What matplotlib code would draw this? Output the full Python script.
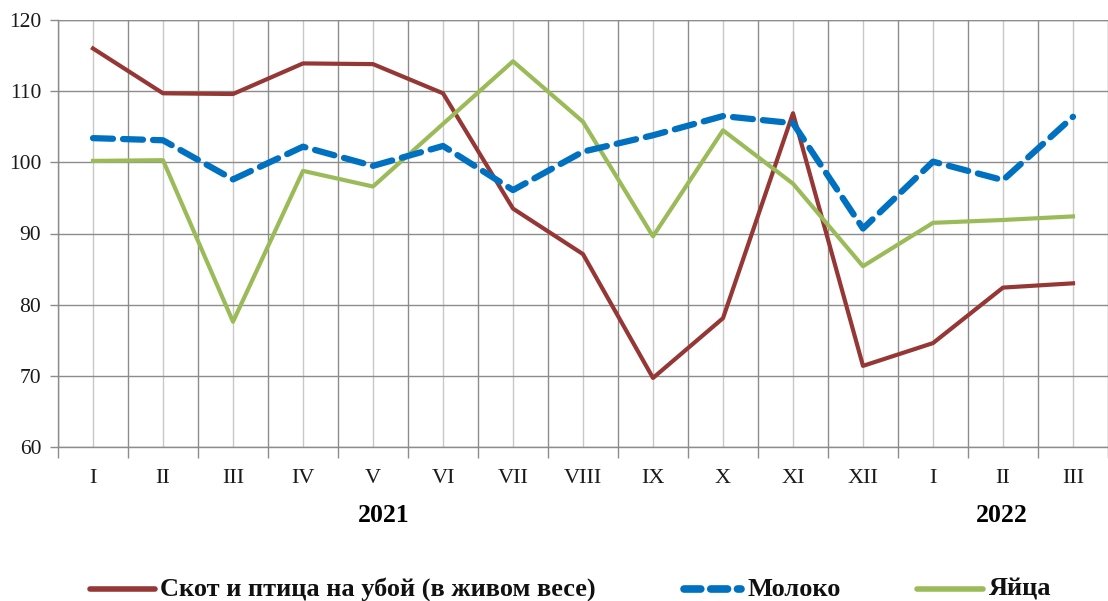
import matplotlib
matplotlib.use("Agg")
import matplotlib.pyplot as plt
from matplotlib.ticker import NullFormatter
from matplotlib.lines import Line2D

months = ["I", "II", "III", "IV", "V", "VI", "VII", "VIII", "IX", "X", "XI", "XII", "I", "II", "III"]
years = ["2021", "2022"]
livestock = [116.0, 109.7, 109.6, 113.9, 113.8, 109.7, 93.5, 87.1, 69.7, 78.1, 106.9, 71.4, 74.6, 82.4, 83.0]
milk = [103.4, 103.1, 97.6, 102.2, 99.5, 102.3, 96.1, 101.5, 103.8, 106.5, 105.5, 90.7, 100.1, 97.5, 106.4]
eggs = [100.2, 100.3, 77.6, 98.8, 96.6, 105.4, 114.2, 105.7, 89.6, 104.5, 97.0, 85.4, 91.5, 91.9, 92.4]
names = ["Скот и птица на убой (в живом весе)", "Молоко", "Яйца"]
colors = ["#953735", "#0070C0", "#9BBB59"]

W, H = 1108, 601
fig = plt.figure(figsize=(W / 100, H / 100), dpi=100)
ax = fig.add_axes([58 / W, (H - 447) / H, (W - 58) / W, (447 - 20) / H])

x = list(range(len(months)))
serif = "Liberation Serif"

ax.plot(x, livestock, color=colors[0], lw=3.0, zorder=3)
ax.plot(x, milk, color=colors[1], lw=4.5, dashes=(3.2, 1.6), dash_capstyle="round", zorder=4)
ax.plot(x, eggs, color=colors[2], lw=3.0, zorder=3)

ax.set_ylim(60, 120)
ax.set_xlim(-0.5, (W - 93.3) / 70.4)
ax.set_yticks(range(60, 121, 10))
ax.yaxis.grid(True, color="#8c8c8c", lw=1.0)
ax.set_xticks([i - 0.5 for i in range(len(months) + 1)])
ax.xaxis.set_major_formatter(NullFormatter())
ax.set_xticks(x, months, minor=True)
ax.xaxis.grid(True, which="major", color="#8c8c8c", lw=1.0)
ax.xaxis.grid(True, which="minor", color="#c8c8c8", lw=1.0)
ax.set_axisbelow(True)
ax.tick_params(axis="x", which="major", length=8, color="#8c8c8c", width=1.0)
ax.tick_params(axis="x", which="minor", length=0, pad=15.5, labelsize=16)
ax.tick_params(axis="y", length=6, color="#8c8c8c", width=1.0, labelsize=15.5, pad=6)
for lab in ax.get_xticklabels(minor=True) + ax.get_yticklabels():
    lab.set_fontfamily(serif)
    lab.set_color("#1a1a1a")
for s in ["top", "right"]:
    ax.spines[s].set_visible(False)
for s in ["left", "bottom"]:
    ax.spines[s].set_color("#8c8c8c")
    ax.spines[s].set_linewidth(1.0)
ax.axhline(120, color="#8c8c8c", lw=1.0)

fig.text(383.5 / W, 1 - 515 / H, years[0], ha="center", va="center", fontfamily=serif,
         fontweight="bold", fontsize=18.5)
fig.text(1002 / W, 1 - 515 / H, years[1], ha="center", va="center", fontfamily=serif,
         fontweight="bold", fontsize=18.5)

# legend drawn in figure pixel coordinates
ly = 1 - 589 / H
leg_items = [
    (90, 155, 160, dict(lw=4.0, solid_capstyle="round")),
    (684, 741, 747, dict(lw=5.5, dashes=(2.2, 1.3), dash_capstyle="round")),
    (917, 983, 989, dict(lw=4.0, solid_capstyle="round")),
]
for (x0, x1, tx, style), name, c in zip(leg_items, names, colors):
    fig.add_artist(Line2D([x0 / W, x1 / W], [ly, ly], color=c, transform=fig.transFigure, **style))
    fig.text(tx / W, ly, name, ha="left", va="center", fontfamily=serif, fontweight="bold",
             fontsize=19, color="#111111")

fig.savefig("out.png", dpi=100)
